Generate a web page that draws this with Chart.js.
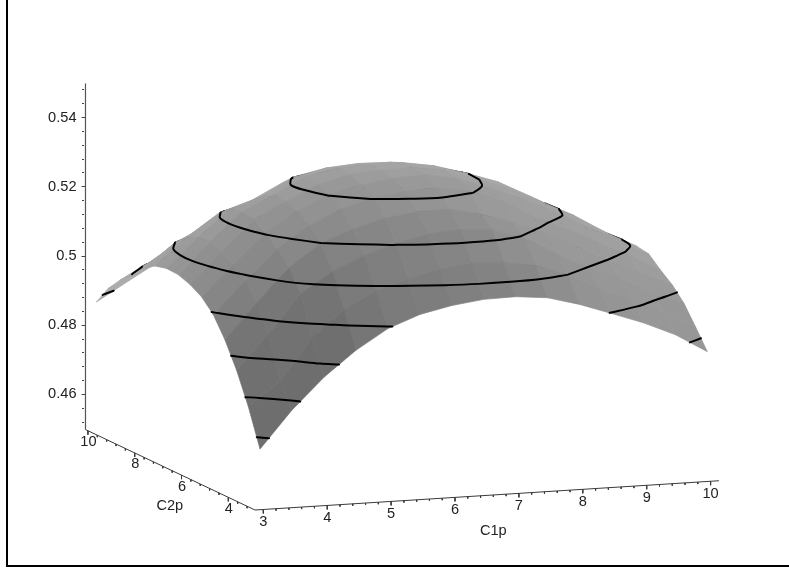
<!DOCTYPE html>
<html>
<head>
<meta charset="utf-8">
<script src="https://cdn.jsdelivr.net/npm/chart.js@4"></script>
<style>
html,body{margin:0;padding:0;background:#fff;overflow:hidden}
#frame{position:absolute;left:6px;top:-4px;width:800px;height:569px;border-left:2.5px solid #000;border-bottom:2.5px solid #000;box-sizing:content-box}
canvas{position:absolute;left:0;top:0}
</style>
</head>
<body>
<div id="frame"></div>
<canvas id="c" width="789" height="571" style="width:789px;height:571px"></canvas>
<script>
const c1Values = [3,3.5,4,4.5,5,5.5,6,6.5,7,7.5,8,8.5,9,9.5,10];
const c2Values = [3,3.5,4,4.5,5,5.5,6,6.5,7,7.5,8,8.5,9,9.5,10];
const surfaceZ = [
[.467,.4777,.4866,.4938,.4995,.503,.505,.5062,.5064,.5055,.503,.4998,.4965,.4925,.487],
[.4777,.4845,.4965,.504,.5088,.5118,.514,.5152,.5148,.5132,.51,.5055,.5015,.4975,.4925],
[.4866,.4965,.5075,.5135,.5175,.5205,.5225,.5232,.5225,.5195,.5145,.51,.5065,.5015,.4978],
[.4938,.504,.5135,.52,.5235,.526,.5272,.5275,.5255,.5225,.519,.5145,.51,.5058,.5015],
[.4995,.5088,.5175,.5235,.5275,.5302,.5315,.5322,.5305,.5272,.522,.518,.5135,.5095,.5042],
[.503,.5118,.5205,.526,.5302,.5325,.5338,.5342,.5325,.5293,.5255,.5215,.5165,.512,.5072],
[.505,.514,.5225,.5272,.5315,.5338,.5345,.5347,.5332,.5302,.5268,.5225,.518,.5125,.5078],
[.5062,.5152,.5232,.5275,.5322,.5342,.5347,.5345,.533,.5303,.5272,.5225,.5175,.5125,.5072],
[.5064,.5148,.5225,.5255,.5305,.5325,.5332,.533,.5315,.5292,.5258,.5212,.5165,.5118,.506],
[.5055,.5132,.5195,.5225,.5272,.5293,.5302,.5303,.5292,.5262,.5225,.5185,.5145,.51,.5042],
[.503,.51,.5145,.519,.522,.5255,.5268,.5272,.5258,.5225,.519,.5155,.5115,.5065,.502],
[.4998,.5055,.51,.5145,.518,.5215,.5225,.5225,.5212,.5185,.5155,.5118,.5075,.503,.4988],
[.4965,.5015,.5065,.51,.5135,.5165,.518,.5175,.5165,.5145,.5115,.5075,.5035,.499,.4955],
[.4925,.4975,.5015,.5058,.5095,.512,.5125,.5125,.5118,.51,.5065,.503,.499,.495,.4915],
[.487,.4925,.4978,.5015,.5042,.5072,.5078,.5072,.506,.5042,.502,.4988,.4955,.4915,.487]
];
const contourLevels = [.47,.48,.49,.5,.51,.52,.53];
const zMajorTicks = [.46,.48,.5,.52,.54];
const zMinorTicks = [.452,.456,.464,.468,.472,.476,.484,.488,.492,.496,.504,.508,.512,.516,.524,.528,.532,.536,.544,.548];
const c1MajorTicks = [3,4,5,6,7,8,9,10];
const c1MinorTicks = [3.2,3.4,3.6,3.8,4.2,4.4,4.6,4.8,5.2,5.4,5.6,5.8,6.2,6.4,6.6,6.8,7.2,7.4,7.6,7.8,8.2,8.4,8.6,8.8,9.2,9.4,9.6,9.8];
const c2MajorTicks = [4,6,8,10];
const c2MinorTicks = [3.2,3.6,4.4,4.8,5.2,5.6,6.4,6.8,7.2,7.6,8.4,8.8,9.2,9.6];

// Camera: parallel projection onto (horizontal position, z-equivalent height)
const Z_SCALE = 3460, C1_ORIGIN = 2.87, C2_ORIGIN = 2.86, C1_END = 10.13, C2_END = 10.104;
const Z_FLOOR = .45, Z_CEIL = .55, FLOOR_DROP = 81;
function project(c1, c2, z){
  const a = c1 - C1_ORIGIN, b = c2 - C2_ORIGIN;
  return { x: 255 + 63.9*a - 23.4*b, y: z + (4.03*a + 11.1*b - FLOOR_DROP)/Z_SCALE };
}
const AXIS_COLOR = '#3a3a3a';
function lineDs(points, color, width, cap, tension){
  return {data: points, showLine:true, fill:false, borderColor:color, borderWidth:width,
          pointRadius:0, borderCapStyle:cap||'butt', borderJoinStyle:'round', clip:false, tension:tension||0};
}
const n = c1Values.length, m = c2Values.length;
function grayAt(i,j){
  const z = surfaceZ;
  const i0=Math.max(0,i-1), i1=Math.min(n-1,i+2), j0=Math.max(0,j-1), j1=Math.min(m-1,j+2);
  const zx = ((z[i1][j]+z[i1][j+1])-(z[i0][j]+z[i0][j+1]))/2/((i1-i0)*.5);
  const zy = ((z[i][j1]+z[i+1][j1])-(z[i][j0]+z[i+1][j0]))/2/((j1-j0)*.5);
  const g = Math.round(Math.max(70, Math.min(215, 162 - 800*zx - 1900*zy)));
  return 'rgb('+g+','+g+','+g+')';
}
const painter = [], frontSegs = {};
contourLevels.forEach(l=>frontSegs[l]=[]);
const cells = [];
for (let i=0;i<n-1;i++) for (let j=0;j<m-1;j++) cells.push([i,j]);
cells.sort((p,q)=>(q[0]+q[1])-(p[0]+p[1]));
function corner(i,j){ return {c1:c1Values[i], c2:c2Values[j], z:surfaceZ[i][j]}; }
function cross(A,B,l){
  if ((A.z<l)===(B.z<l)) return null;
  const t=(l-A.z)/(B.z-A.z);
  return project(A.c1+t*(B.c1-A.c1), A.c2+t*(B.c2-A.c2), l);
}
for (const [i,j] of cells){
  const A=corner(i,j),B=corner(i+1,j),C=corner(i+1,j+1),D=corner(i,j+1);
  const poly=[A,B,C,D].map(p=>project(p.c1,p.c2,p.z));
  const col=grayAt(i,j);
  painter.push({data:[...poly,poly[0]],showLine:true,fill:'shape',backgroundColor:col,borderColor:col,
    borderWidth:.7,pointRadius:0,clip:false,tension:0});
  let area=0;
  for(let k=0;k<4;k++){const P=poly[k],Q=poly[(k+1)%4];area+=P.x*Q.y*Z_SCALE-Q.x*P.y*Z_SCALE;}
  const front=area>0;
  for(const l of contourLevels){
    const hits=[cross(A,B,l),cross(B,C,l),cross(C,D,l),cross(D,A,l)].filter(Boolean);
    for(let k=0;k+1<hits.length;k+=2){
      if(front) frontSegs[l].push([hits[k],hits[k+1]]);
      else painter.push(lineDs([hits[k],hits[k+1]],'#000',2,'round'));
    }
  }
}
// Join visible contour pieces into polylines so the library can round them
const near=(P,Q)=>Math.abs(P.x-Q.x)<.01 && Math.abs(P.y-Q.y)*Z_SCALE<.01;
function chain(segs){
  const out=[], left=segs.slice();
  while(left.length){
    const path=left.pop().slice();
    let grown=true;
    while(grown){
      grown=false;
      for(let k=left.length-1;k>=0;k--){
        const [P,Q]=left[k], a=path[0], b=path[path.length-1];
        if(near(b,P)){path.push(Q);} else if(near(b,Q)){path.push(P);}
        else if(near(a,P)){path.unshift(Q);} else if(near(a,Q)){path.unshift(P);}
        else continue;
        left.splice(k,1);grown=true;
      }
    }
    out.push(path);
  }
  return out;
}
const topLines=[];
contourLevels.forEach(l=>chain(frontSegs[l]).forEach(p=>topLines.push(lineDs(p,'#000',2,'round',.35))));

const axes=[];
const O=project(C1_ORIGIN,C2_ORIGIN,Z_FLOOR), X1=project(C1_END,C2_ORIGIN,Z_FLOOR), X2=project(C1_ORIGIN,C2_END,Z_FLOOR);
axes.push(lineDs([O,X1],AXIS_COLOR,1));
axes.push(lineDs([O,X2],AXIS_COLOR,1));
axes.push(lineDs([X2,{x:X2.x,y:X2.y+(Z_CEIL-Z_FLOOR)}],'#555',1.2));
function tick(p,len){ return lineDs([p,{x:p.x,y:p.y-len/Z_SCALE}],AXIS_COLOR,1); }
c1MajorTicks.forEach(v=>axes.push(tick(project(v,C2_ORIGIN,Z_FLOOR),4)));
c1MinorTicks.forEach(v=>axes.push(tick(project(v,C2_ORIGIN,Z_FLOOR),2)));
c2MajorTicks.forEach(v=>axes.push(tick(project(C1_ORIGIN,v,Z_FLOOR),4)));
c2MinorTicks.forEach(v=>axes.push(tick(project(C1_ORIGIN,v,Z_FLOOR),2)));

// index 0 is painted last by Chart.js
const datasets=[...topLines,...painter.slice().reverse(),...axes];

const FONT='14.6px "Liberation Sans", Arial, sans-serif';
const TEXT='#222';
const slantLabels={
  id:'slantLabels',
  afterDatasetsDraw(chart){
    const {ctx,scales:{x,y}}=chart;
    ctx.save();ctx.font=FONT;ctx.fillStyle=TEXT;ctx.textAlign='center';ctx.textBaseline='middle';
    const put=(t,p,dx,dy)=>ctx.fillText(t,x.getPixelForValue(p.x)+dx,y.getPixelForValue(p.y)+dy);
    c1MajorTicks.forEach(v=>put(String(v),project(v,C2_ORIGIN,Z_FLOOR),0,12.5));
    c2MajorTicks.forEach(v=>put(String(v),project(C1_ORIGIN,v,Z_FLOOR),0.5,11.5));
    put('C1p',project(6.6,C2_ORIGIN,Z_FLOOR),0,35.7);
    put('C2p',project(C1_ORIGIN,6.5,Z_FLOOR),0,36);
    ctx.restore();
  }
};
const yMin=Z_FLOOR-101/Z_SCALE;
new Chart(document.getElementById('c'),{
  type:'scatter',
  data:{datasets},
  plugins:[slantLabels],
  options:{
    responsive:false,animation:false,events:[],
    layout:{padding:{left:25.5,right:59,top:83,bottom:41}},
    plugins:{legend:{display:false},tooltip:{enabled:false},title:{display:false}},
    scales:{
      x:{type:'linear',display:false,min:85.5,max:730},
      y:{type:'linear',position:'left',min:yMin,max:Z_CEIL,
        afterFit(s){s.width=60;},
        afterBuildTicks(s){s.ticks=zMajorTicks.map(v=>({value:v}));},
        border:{display:false},
        grid:{drawOnChartArea:false,drawTicks:true,tickLength:4,color:'#444',lineWidth:1},
        ticks:{autoSkip:false,padding:5,color:TEXT,font:{family:'"Liberation Sans", Arial, sans-serif',size:14.6},
          callback(v){return String(v);}}
      },
      yMinor:{type:'linear',position:{x:83.5},min:yMin,max:Z_CEIL,
        afterBuildTicks(s){s.ticks=zMinorTicks.map(v=>({value:v}));},
        border:{display:false},
        grid:{drawOnChartArea:false,drawTicks:true,tickLength:2,color:'#444',lineWidth:1},
        ticks:{display:false,autoSkip:false}
      }
    }
  }
});
</script>
</body>
</html>
